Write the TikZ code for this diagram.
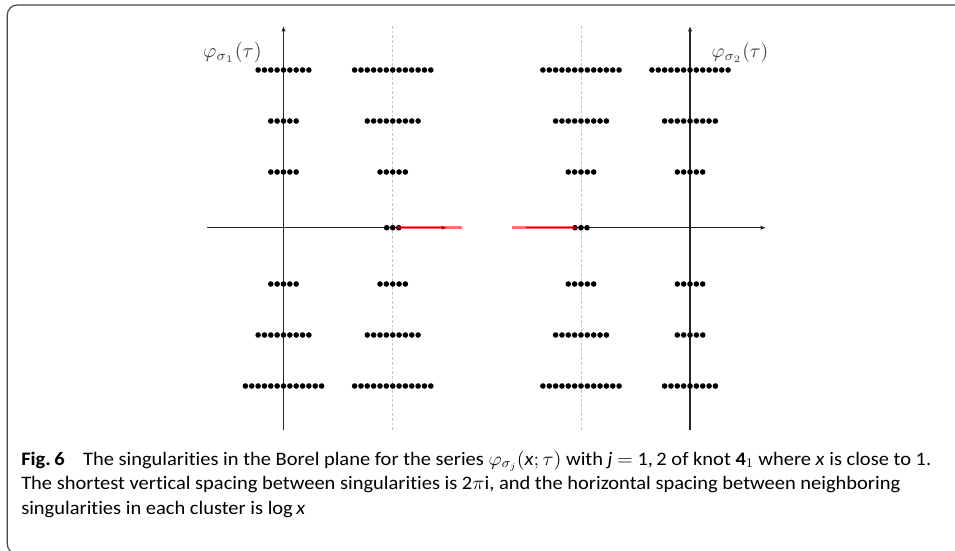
\documentclass[tikz,border=0pt]{standalone}
\usepackage{fontspec}
\usepackage{graphicx}
\setmainfont{Carlito}[Ligatures={NoCommon}]
\usetikzlibrary{arrows.meta}
\newsavebox\capbox
\newcommand\capsize{\fontsize{14.3}{17}\selectfont}
\newcommand\capLineOne{\textbf{Fig.\,6}\hspace{0.9em}The singularities in the Borel plane for the series $\varphi_{\sigma_j}(\textit{x};\tau)$ with \textit{j} $=$ 1,\,2 of knot $\mathbf{4}_1$ where \textit{x} is close to 1.}
\newcommand\capLineTwo{The shortest vertical spacing between singularities is 2$\pi$i, and the horizontal spacing between neighboring}
\newcommand\capLineThree{singularities in each cluster is log\,\textit{x}}
\newcommand\singrow[3]{\foreach \k in {1,...,#3}{\fill[sing] ({#1+(\k-(#3+1)/2)*6.35},#2) circle[radius=2.1pt];}}
\begin{document}
\sbox\capbox{\capsize\capLineOne}%
\pgfmathsetmacro\capfac{682.5/\the\wd\capbox}%
\begin{tikzpicture}[x=0.75pt,y=-0.75pt,
  haxis/.style={line width=0.9pt, draw=black!85, -{Latex[length=4pt,width=3.2pt]}},
  vaxis/.style={line width=1.1pt, draw=black!85, -{Latex[length=4pt,width=3.2pt]}},
  guide/.style={draw=black!22, line width=0.7pt, dash pattern=on 2pt off 1.5pt},
  cut/.style={draw=red, opacity=0.55, line width=2.4pt},
  sing/.style={fill=black},
  frameline/.style={draw=black!72, line width=0.9pt, rounded corners=7.5pt},
  lbl/.style={inner sep=0pt, text=black!75},
  capline/.style={inner sep=0pt, anchor=base west}]
\useasboundingbox (0,0) rectangle (955,550);
\clip (0,0) rectangle (955,550);
% frame
\coordinate (fA) at (965,5);
\coordinate (fB) at (7.3,5);
\coordinate (fC) at (7.3,554);
\coordinate (fD) at (965,554);
\draw[frameline] (fA) -- (fB) -- (fC) -- (fD);
% axes coordinates
\coordinate (LvB) at (283.5,430); \coordinate (LvT) at (283.5,26);
\coordinate (RvB) at (690,430);   \coordinate (RvT) at (690,26);
\coordinate (LgB) at (392.7,430); \coordinate (LgT) at (392.7,25);
\coordinate (RgB) at (581,430);   \coordinate (RgT) at (581,25);
\coordinate (LhA) at (207,227.7); \coordinate (LhB) at (447,227.7);
\coordinate (RhA) at (525.5,227.7); \coordinate (RhB) at (766,227.7);
\coordinate (LcA) at (397,227.7); \coordinate (LcB) at (462,227.7);
\coordinate (RcA) at (511.5,227.7); \coordinate (RcB) at (576.5,227.7);
% guides
\draw[guide] (LgB) -- (LgT);
\draw[guide] (RgB) -- (RgT);
% axes
\draw[vaxis] (LvB) -- (LvT);
\draw[vaxis] (RvB) -- (RvT);
\draw[haxis] (LhA) -- (LhB);
\draw[haxis] (RhA) -- (RhB);
% singularities
\foreach \cx/\yy/\n in {283.5/70/9, 283.5/121/5, 283.5/172/5, 283.5/284/5, 283.5/335/9, 283.5/386/13,
  392.7/70/13, 392.7/121/9, 392.7/172/5, 392.7/284/5, 392.7/335/9, 392.7/386/13,
  581/70/13, 581/121/9, 581/172/5, 581/284/5, 581/335/9, 581/386/13,
  690/70/13, 690/121/9, 690/172/5, 690/284/5, 690/335/5, 690/386/9}
  {\singrow{\cx}{\yy}{\n}}
\foreach \xx in {386.7,392.7,398.7,575,581,587}{\fill[sing] (\xx,227.7) circle[radius=2.1pt];}
% cuts
\draw[cut] (LcA) -- (LcB);
\draw[cut] (RcA) -- (RcB);
% labels
\node[lbl] (phi1) at (232.5,52) {\resizebox{44pt}{!}{$\varphi_{\sigma_1}(\tau)$}};
\node[lbl] (phi2) at (740,53) {\resizebox{42.5pt}{!}{$\varphi_{\sigma_2}(\tau)$}};
% caption
\node[capline] (cap1) at (21,465) {\scalebox{\capfac}[1]{\capsize\capLineOne}};
\node[capline] (cap2) at (21,489.5) {\scalebox{\capfac}[1]{\capsize\capLineTwo}};
\node[capline] (cap3) at (21,514) {\scalebox{\capfac}[1]{\capsize\capLineThree}};
\end{tikzpicture}
\end{document}
